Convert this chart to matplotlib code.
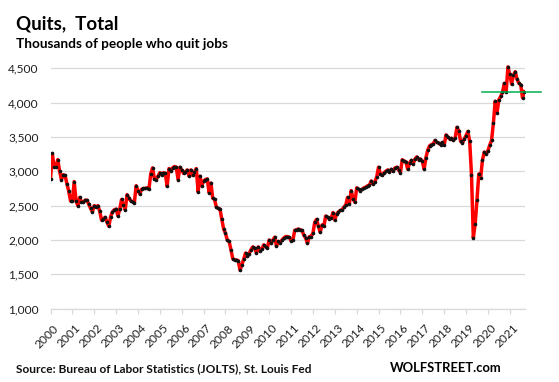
import matplotlib
matplotlib.use("Agg")
import matplotlib.pyplot as plt
import matplotlib.transforms as mtrans
import numpy as np

plt.rcParams['font.family'] = ['Lato', 'DejaVu Sans']

# ---- data (thousands, monthly, seasonally adjusted) ----
q2000 = [2890]
q2001 = [3260, 3060, 3060, 3170, 3000, 2880, 2950, 2940, 2820, 2710, 2570, 2570]
q2002 = [2850, 2570, 2500, 2620, 2550, 2550, 2580, 2580, 2520, 2460, 2410, 2500]
q2003 = [2480, 2500, 2420, 2290, 2310, 2330, 2260, 2200, 2340, 2410, 2440, 2450]
q2004 = [2350, 2450, 2590, 2510, 2440, 2660, 2610, 2570, 2560, 2540, 2790, 2720]
q2005 = [2670, 2740, 2750, 2750, 2760, 2740, 2960, 3050, 2890, 2880, 2930, 2980]
q2006 = [2950, 2980, 2970, 2780, 3040, 3010, 3050, 3070, 3060, 2880, 3060, 3020]
q2007 = [2970, 2990, 3020, 2930, 3020, 2940, 2990, 3040, 2700, 2930, 2790, 2860]
q2008 = [2880, 2890, 2690, 2830, 2610, 2590, 2480, 2460, 2450, 2300, 2160, 2100]
q2009 = [2000, 1980, 1860, 1730, 1710, 1710, 1700, 1560, 1640, 1720, 1810, 1760]
q2010 = [1800, 1860, 1900, 1880, 1810, 1900, 1840, 1870, 1930, 1900, 1890, 2000]
q2011 = [1950, 2000, 2040, 1910, 1980, 1960, 2000, 2030, 2050, 2050, 2040, 1990]
q2012 = [2000, 2140, 2150, 2160, 2150, 2140, 2070, 2030, 1950, 2050, 2050, 2100]
q2013 = [2260, 2300, 2200, 2110, 2220, 2200, 2350, 2330, 2310, 2320, 2400, 2290]
q2014 = [2380, 2410, 2430, 2440, 2480, 2510, 2620, 2530, 2720, 2600, 2550, 2760]
q2015 = [2740, 2720, 2740, 2760, 2770, 2790, 2800, 2860, 2820, 2850, 2920, 3060]
q2016 = [2960, 2940, 2980, 3000, 3020, 2990, 3030, 3000, 3050, 3060, 3020, 2980]
q2017 = [3170, 3150, 3140, 3030, 3120, 3160, 3110, 3180, 3210, 3170, 3180, 3150]
q2018 = [3030, 3200, 3310, 3370, 3390, 3400, 3450, 3420, 3410, 3390, 3420, 3380]
q2019 = [3530, 3500, 3470, 3480, 3450, 3480, 3640, 3590, 3440, 3410, 3470, 3520]
q2020 = [3580, 3440, 2950, 2030, 2230, 2580, 2960, 2900, 3160, 3280, 3250, 3300]
q2021 = [3380, 3450, 3700, 4020, 3850, 4040, 4090, 4150, 4280, 4150, 4520, 4410]
q2022 = [4270, 4400, 4450, 4340, 4280, 4260, 4070, 4160]

reference_level = 4160  # green horizontal marker

year_labels = [str(y) for y in range(2000, 2022)]
y_ticks = [1000, 1500, 2000, 2500, 3000, 3500, 4000, 4500]

quits = (q2000 + q2001 + q2002 + q2003 + q2004 + q2005 + q2006 + q2007 + q2008
         + q2009 + q2010 + q2011 + q2012 + q2013 + q2014 + q2015 + q2016
         + q2017 + q2018 + q2019 + q2020 + q2021 + q2022)
months = np.arange(len(quits))  # months since Dec 2000

# ---- figure ----
W, H = 559, 382
fig = plt.figure(figsize=(W / 100, H / 100), dpi=100)
left_px, right_px = 50.5, 525.0
bot_px, top_px = 308.7, 61.4
ax = fig.add_axes([left_px / W, 1 - bot_px / H, (right_px - left_px) / W, (bot_px - top_px) / H])

ax.plot(months, quits, color='#ff0000', lw=2.5, solid_joinstyle='round', zorder=3)
ax.plot(months, quits, linestyle='none', marker='o', markersize=2.6,
        markerfacecolor='#111111', markeredgewidth=0, zorder=4)

ax.plot([236.5, 269.2], [reference_level, reference_level], color='#00b050',
        lw=1.1, zorder=5, clip_on=False)

ax.set_xlim(0, (right_px - left_px) / 1.8225)
ax.set_ylim(1000, 4600)

ax.set_yticks(y_ticks)
ax.set_yticklabels([f"{v:,}" for v in y_ticks])
ax.set_xticks(np.arange(len(year_labels)) * 12)
ax.set_xticklabels(year_labels, rotation=45, ha='right', va='top', rotation_mode='anchor')

ax.grid(axis='y', color='#d9d9d9', lw=0.9)
ax.set_axisbelow(True)
for s in ['left', 'right', 'top']:
    ax.spines[s].set_visible(False)
ax.spines['bottom'].set_color('#d9d9d9')
ax.spines['bottom'].set_linewidth(0.9)

ax.tick_params(axis='y', length=0, pad=8.5, labelsize=8.6, labelcolor='#1f1f1f')
ax.tick_params(axis='x', direction='out', length=3.4, width=0.9, color='#d9d9d9',
               pad=6.5, labelsize=8.6, labelcolor='#1f1f1f')
shift = mtrans.ScaledTranslation(2.5 / 100, 0, fig.dpi_scale_trans)
for lab in ax.get_xticklabels():
    lab.set_transform(lab.get_transform() + shift)

# ---- texts ----
fig.text(16 / W, 1 - 29 / H, "Quits,  Total", fontsize=13.5, fontweight='bold',
         color='black', va='baseline', ha='left')
fig.text(16 / W, 1 - 48 / H, "Thousands of people who quit jobs", fontsize=9.8,
         fontweight='bold', color='black', va='baseline', ha='left')
fig.text(16 / W, 1 - 372 / H, "Source: Bureau of Labor Statistics (JOLTS), St. Louis Fed",
         fontsize=8.6, fontweight='bold', color='#111111', va='baseline', ha='left')
fig.text(390 / W, 1 - 372.5 / H, "WOLFSTREET.com", fontsize=9.4, fontweight='bold',
         color='black', va='baseline', ha='left')

fig.savefig("out.png", dpi=100)
